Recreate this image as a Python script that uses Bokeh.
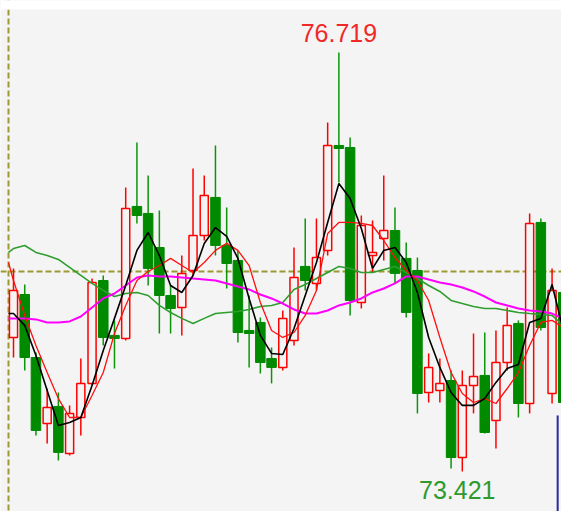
from bokeh.plotting import figure
from bokeh.models import Range1d, Span, Label, BoxAnnotation
from bokeh.embed import file_html
from bokeh.resources import INLINE

# ---- data ----
opens = [74.476, 74.814, 74.318, 73.799, 73.933, 73.563, 73.846, 74.114, 74.924, 74.492,
         74.468, 75.507, 75.452, 75.184, 74.806, 74.712, 75.003, 75.279, 75.578, 75.200,
         75.082, 74.531, 74.594, 74.310, 74.240, 74.452, 75.035, 74.901, 75.161, 75.987,
         75.971, 74.751, 75.121, 75.255, 75.318, 75.098, 75.003, 74.043, 74.059, 74.137,
         73.531, 74.098, 74.177, 73.823, 74.279, 74.586, 73.956, 75.381, 74.035, 74.830]
highs = [75.019, 74.893, 74.358, 74.074, 74.043, 73.941, 74.310, 74.940, 74.964, 74.610,
         75.656, 76.011, 75.751, 75.475, 74.885, 75.121, 75.806, 75.751, 75.987, 75.499,
         75.161, 74.806, 74.633, 74.397, 74.688, 75.184, 75.412, 75.412, 76.168, 76.719,
         76.050, 75.436, 75.397, 75.751, 75.499, 75.224, 75.105, 74.350, 74.310, 74.216,
         74.216, 74.507, 74.515, 74.531, 74.712, 74.610, 75.452, 75.412, 75.019, 74.909]
lows = [74.318, 74.216, 73.704, 73.641, 73.508, 73.547, 73.704, 74.098, 74.413, 74.232,
        74.452, 75.373, 74.885, 74.507, 74.507, 74.492, 74.964, 75.239, 75.121, 74.861,
        74.436, 74.240, 74.192, 74.114, 74.216, 74.413, 74.846, 74.846, 75.121, 75.696,
        74.649, 74.704, 74.987, 75.082, 74.901, 74.633, 73.878, 73.964, 73.964, 73.445,
        73.421, 73.878, 73.720, 73.602, 74.216, 73.846, 73.878, 74.531, 73.956, 73.846]
closes = [74.846, 74.318, 73.744, 73.925, 73.571, 73.878, 74.114, 74.909, 74.476, 74.468,
          75.491, 75.436, 75.019, 74.806, 74.704, 74.980, 75.279, 75.593, 75.200, 75.058,
          74.515, 74.507, 74.279, 74.240, 74.625, 74.948, 74.924, 75.105, 75.987, 75.963,
          74.767, 75.357, 75.145, 75.318, 74.980, 74.673, 74.035, 74.240, 74.114, 73.531,
          74.098, 74.169, 73.728, 74.279, 74.570, 73.956, 75.373, 74.554, 74.846, 73.964]

# moving-average lines (first value sits at the left border, then one per candle)
ma_black = [74.664, 74.664, 74.571, 74.334, 74.059, 73.783, 73.806, 73.846, 74.098, 74.373,
            74.626, 74.885, 75.161, 75.302, 75.121, 74.885, 74.830, 74.964, 75.216, 75.341,
            75.271, 75.098, 74.783, 74.492, 74.350, 74.342, 74.546, 74.806, 75.066, 75.381,
            75.688, 75.570, 75.334, 75.019, 75.161, 75.184, 75.066, 74.830, 74.476, 74.240,
            74.043, 73.941, 73.941, 73.995, 74.122, 74.232, 74.263, 74.594, 74.626, 74.893,
            74.531]
ma_red = [75.066, 74.924, 74.649, 74.413, 74.200, 73.995, 73.846, 73.846, 74.019, 74.200,
          74.507, 74.728, 74.924, 74.995, 75.042, 75.098, 75.042, 74.987, 75.066, 75.161,
          75.216, 75.161, 75.042, 74.751, 74.531, 74.476, 74.515, 74.649, 74.846, 75.294,
          75.381, 75.381, 75.373, 75.357, 75.239, 75.105, 75.003, 74.924, 74.767, 74.476,
          74.200, 74.035, 73.964, 73.995, 73.956, 74.074, 74.200, 74.413, 74.594, 74.610,
          74.554]
ma_green = [75.145, 75.176, 75.200, 75.145, 75.121, 75.090, 75.027, 74.964, 74.901, 74.846,
            74.798, 74.822, 74.830, 74.806, 74.728, 74.672, 74.626, 74.586, 74.626, 74.664,
            74.672, 74.680, 74.696, 74.720, 74.728, 74.751, 74.854, 74.893, 74.940, 74.987,
            75.035, 75.019, 74.987, 74.987, 75.011, 75.035, 74.987, 74.940, 74.885, 74.838,
            74.767, 74.743, 74.720, 74.704, 74.704, 74.688, 74.672, 74.664, 74.657, 74.649,
            74.570]
ma_magenta = [74.626, 74.626, 74.626, 74.618, 74.594, 74.594, 74.602, 74.641, 74.712, 74.783,
              74.822, 74.885, 74.948, 74.964, 74.956, 74.956, 74.948, 74.940, 74.932, 74.924,
              74.901, 74.877, 74.854, 74.814, 74.783, 74.743, 74.696, 74.664, 74.664, 74.688,
              74.728, 74.751, 74.783, 74.830, 74.861, 74.901, 74.956, 74.956, 74.932, 74.909,
              74.893, 74.869, 74.838, 74.798, 74.751, 74.728, 74.704, 74.688, 74.680, 74.664,
              74.626]

ref_price = 74.995      # dashed olive reference level
cursor_index = 49.5     # blue cursor line
cursor_top = 73.862

# ---- figure ----
BG = "#f4f4f4"
X0, X1 = -0.159, 49.841
Y0, Y1 = 73.106, 77.128
p = figure(width=561, height=511,
           x_range=Range1d(X0, X1), y_range=Range1d(Y0, Y1),
           output_backend="svg", toolbar_location=None, min_border=0)
p.axis.visible = False
p.grid.visible = False
p.outline_line_color = None
p.background_fill_color = BG
p.border_fill_color = BG

n = len(opens)
xs = list(range(1, n + 1))
up = [c >= o for o, c in zip(opens, closes)]
left_edge = 0.554

p.add_layout(Span(location=ref_price, dimension="width", line_color="#9c9a30",
                  line_width=2, line_dash="6 3", level="underlay"))
p.add_layout(Span(location=left_edge, dimension="height", line_color="#9c9a30",
                  line_width=2, line_dash="6 3", level="underlay"))

ux = [x for x, u in zip(xs, up) if u]
dx = [x for x, u in zip(xs, up) if not u]

# wicks
p.segment(ux, [h for h, u in zip(highs, up) if u],
          ux, [l for l, u in zip(lows, up) if u],
          line_color="#ff0000", line_width=1.5)
p.segment(dx, [h for h, u in zip(highs, up) if not u],
          dx, [l for l, u in zip(lows, up) if not u],
          line_color="#0a960a", line_width=1.5)

# bodies
p.vbar(x=ux, width=0.72,
       top=[c for c, u in zip(closes, up) if u],
       bottom=[o for o, u in zip(opens, up) if u],
       fill_color=BG, line_color="#ff0000", line_width=1.5)
p.vbar(x=dx, width=0.85,
       top=[o for o, u in zip(opens, up) if not u],
       bottom=[c for c, u in zip(closes, up) if not u],
       fill_color="#008a00", line_color="#008a00", line_width=1)

# moving averages
mx = [left_edge] + xs
p.line(mx, ma_green, line_color="#2e9e2e", line_width=1.6)
p.line(mx, ma_magenta, line_color="#ff00ff", line_width=2)
p.line(mx, ma_red, line_color="#ff1010", line_width=1.3)
p.line(mx, ma_black, line_color="#000000", line_width=1.6)

# cursor
p.segment([cursor_index], [cursor_top], [cursor_index], [Y0],
          line_color="#2a2aa0", line_width=2)

# white strip at the very top
p.add_layout(BoxAnnotation(bottom=Y1 - 0.071, fill_color="white", fill_alpha=1,
                           line_color=None, level="overlay"))

# high / low labels
hi = max(highs)
lo = min(lows)
hi_i = highs.index(hi) + 1
lo_i = lows.index(lo) + 1
p.add_layout(Label(x=hi_i, y=hi + 0.157, text=f"{hi:.3f}", text_align="center",
                   text_baseline="middle", text_color="#f02828",
                   text_font="Liberation Sans", text_font_size="25px"))
p.add_layout(Label(x=lo_i - 0.45, y=lo - 0.142, text=f"{lo:.3f}", text_align="center",
                   text_baseline="middle", text_color="#2e9a2e",
                   text_font="Liberation Sans", text_font_size="25px"))

open("out.html", "w").write(file_html(p, INLINE))
